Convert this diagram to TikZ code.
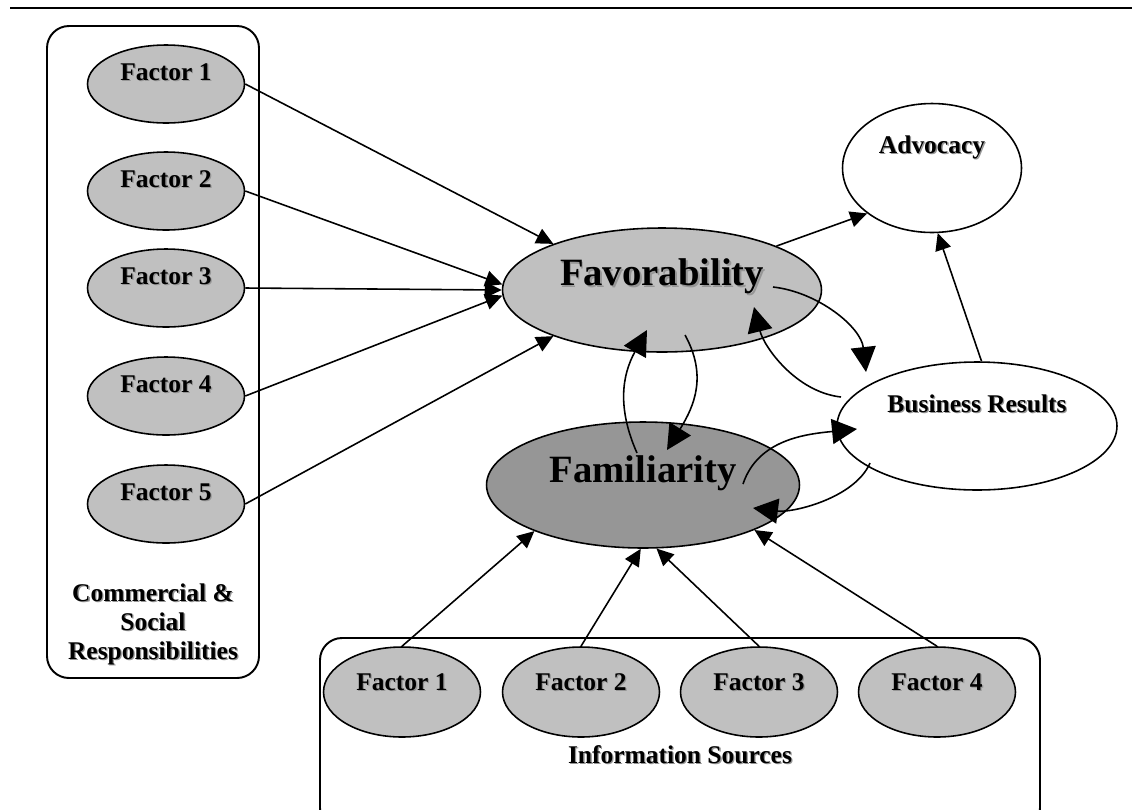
\documentclass[tikz,border=0pt]{standalone}
\usepackage{fontspec}
\setmainfont{Liberation Serif}
\usepackage{xcolor}
\usetikzlibrary{shapes.geometric,arrows.meta,calc}

\definecolor{lightfill}{RGB}{192,192,192}
\definecolor{darkfill}{RGB}{150,150,150}
\definecolor{shadowgray}{RGB}{150,150,150}
\newcommand{\shd}[1]{\makebox[0pt][l]{\kern0.05em\raisebox{-0.05em}{\textcolor{shadowgray}{#1}}}#1}

\begin{document}
\begin{tikzpicture}[x=0.02cm,y=-0.02cm,
  oval/.style={ellipse,draw,line width=0.9pt,inner sep=0pt,font=\fontsize{14.5}{16.5}\selectfont\bfseries,text height=0.34cm},
  factor/.style={oval,fill=lightfill,minimum width=3.14cm,minimum height=1.56cm,text depth=0.48cm},
  srcfactor/.style={oval,fill=lightfill,minimum width=3.14cm,minimum height=1.8cm,text depth=0.4cm},
  bigoval/.style={oval,font=\fontsize{22}{26}\selectfont\bfseries,text height=0.51cm},
  grouplabel/.style={font=\fontsize{14.5}{16.5}\selectfont\bfseries,align=center},
  groupbox/.style={draw,line width=1.1pt,rounded corners=0.44cm},
  arr/.style={-{Triangle[length=0.34cm,width=0.32cm]},line width=0.9pt},
  bigarr/.style={-{Triangle[length=0.5cm,width=0.5cm]},line width=0.9pt}]
\useasboundingbox (0,0) rectangle (1142,809);
\clip (0,0) rectangle (1142,809);
\draw[line width=1.3pt] (10,8) -- (1132,8);

% commercial & social
\draw[groupbox] (47,26) rectangle (259,678);
\foreach \y [count=\i] in {84,191,288,396,504}
  \node[factor] (f\i) at (166,\y) {\shd{Factor \i}};
\node[grouplabel] (csr) at (153,625) {\shd{Commercial \&}\\\shd{Social}\\\shd{Responsibilities}};

% information sources
\draw[groupbox] (320,638) rectangle (1040,830);
\foreach \x [count=\i] in {402,581,759,937}
  \node[srcfactor] (s\i) at (\x,692) {\shd{Factor \i}};
\node[grouplabel] (info) at (680,755) {\shd{Information Sources}};

\node[bigoval,fill=lightfill,minimum width=6.38cm,minimum height=2.48cm,text depth=0.7cm] (fav) at (662,290) {\shd{Favorability}};
\node[bigoval,fill=darkfill,minimum width=6.26cm,minimum height=2.52cm,text depth=0.62cm] (fam) at (643,485) {\shd{Familiarity}};
\node[oval,minimum width=3.58cm,minimum height=2.58cm,text depth=0.94cm] (adv) at (932,168) {\shd{Advocacy}};
\node[oval,minimum width=5.6cm,minimum height=2.56cm,text depth=0.9cm] (br) at (977,426) {\shd{Business Results}};

\foreach \i/\a in {1/157,2/178,3/180,4/182,5/203}
  \draw[arr] (f\i.east) -- (fav.\a);
\foreach \i/\a in {1/203,2/268,3/282,4/338}
  \draw[arr] (s\i.north) -- (fam.\a);
\draw[arr] (fav.21) -- (adv.215);
\draw[arr] (br.86) -- (adv.275);

% loops between the four
\draw[bigarr] ($(fav)+(111,-3)$) .. controls +(45,5) and +(-5,-45) .. ($(br)+(-111,-54)$);
\draw[bigarr] ($(br)+(-136,-29)$) .. controls +(-45,-5) and +(10,40) .. ($(fav)+(92,17)$);
\draw[bigarr] ($(fam)+(-6,-32)$) .. controls +(-20,-45) and +(-25,45) .. ($(fav)+(-15,40)$);
\draw[bigarr] ($(fav)+(23,45)$) .. controls +(22,40) and +(28,-45) .. ($(fam)+(24,-35)$);
\draw[bigarr] ($(fam)+(100,-1)$) .. controls +(15,-45) and +(-50,5) .. ($(br)+(-120,3)$);
\draw[bigarr] ($(br)+(-107,37)$) .. controls +(-15,35) and +(40,5) .. ($(fam)+(110,23)$);
\end{tikzpicture}
\end{document}
